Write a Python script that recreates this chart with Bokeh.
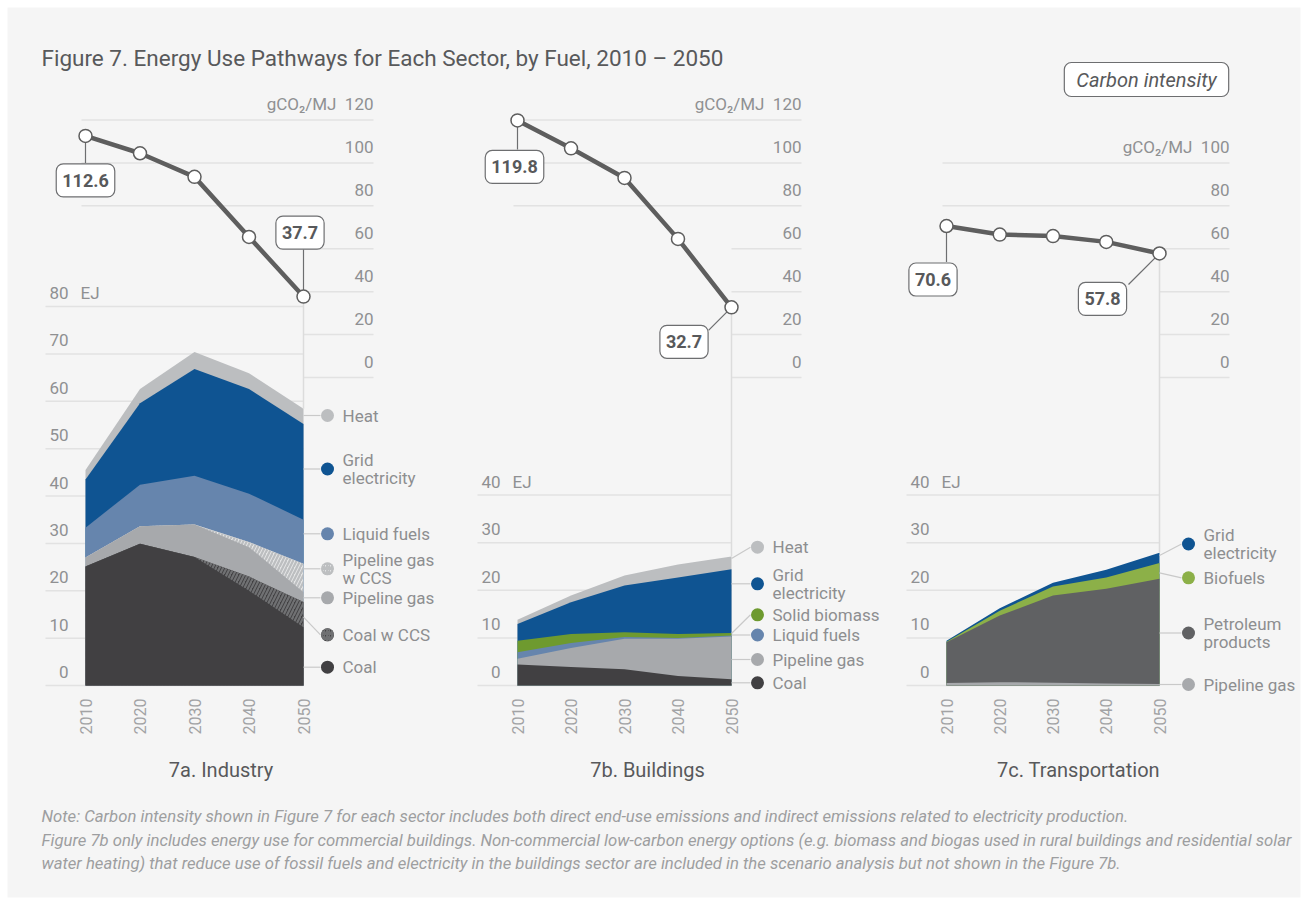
import numpy as np
from bokeh.plotting import figure
from bokeh.models import Range1d, Label
from bokeh.core.properties import value
from bokeh.embed import file_html
from bokeh.resources import INLINE

# ---------------- data ----------------
years = [2010, 2020, 2030, 2040, 2050]
year_labels = ["2010", "2020", "2030", "2040", "2050"]

# Industry (EJ)
ind_coal = [25.1, 29.9, 27.1, 20.0, 12.3]
ind_coal_ccs = [0.0, 0.0, 0.0, 3.0, 5.3]
ind_gas = [1.9, 3.7, 6.9, 6.2, 2.1]
ind_gas_ccs = [0.0, 0.0, 0.0, 1.1, 6.0]
ind_liquid = [6.3, 8.8, 10.3, 10.2, 9.3]
ind_grid = [10.2, 17.2, 22.5, 22.1, 20.2]
ind_heat = [2.0, 3.0, 3.6, 3.3, 3.2]
ind_ci = [112.6, 104.5, 93.5, 65.5, 37.7]   # gCO2/MJ

# Buildings (EJ)
bld_coal = [4.4, 3.9, 3.4, 2.0, 1.3]
bld_gas = [1.2, 4.0, 6.4, 7.8, 9.0]
bld_liquid = [1.4, 1.0, 0.4, 0.2, 0.2]
bld_biomass = [2.4, 1.9, 1.0, 0.8, 0.5]
bld_grid = [3.5, 6.7, 9.8, 11.9, 13.4]
bld_heat = [0.9, 1.4, 2.1, 2.7, 2.7]
bld_ci = [119.8, 106.8, 93.0, 64.6, 32.7]

# Transportation (EJ)
trn_gas = [0.5, 0.7, 0.6, 0.4, 0.3]
trn_petroleum = [8.6, 14.0, 18.3, 19.9, 22.1]
trn_biofuels = [0.1, 1.0, 1.9, 2.4, 3.3]
trn_grid = [0.2, 0.5, 0.8, 1.6, 2.2]
trn_ci = [70.6, 66.6, 65.9, 63.2, 57.8]

ej_ticks_ind = [0, 10, 20, 30, 40, 50, 60, 70, 80]
ej_ticks_small = [0, 10, 20, 30, 40]
ci_ticks_120 = [0, 20, 40, 60, 80, 100, 120]
ci_ticks_100 = [0, 20, 40, 60, 80, 100]

title_text = "Figure 7. Energy Use Pathways for Each Sector, by Fuel, 2010 \u2013 2050"
subtitles = ["7a. Industry", "7b. Buildings", "7c. Transportation"]
ci_unit = "gCO\u2082/MJ"
ej_unit = "EJ"
badge_text = "Carbon intensity"
note_lines = [
    "Note: Carbon intensity shown in Figure 7 for each sector includes both direct end-use emissions and indirect emissions related to electricity production.",
    "Figure 7b only includes energy use for commercial buildings. Non-commercial low-carbon energy options (e.g. biomass and biogas used in rural buildings and residential solar",
    "water heating) that reduce use of fossil fuels and electricity in the buildings sector are included in the scenario analysis but not shown in the Figure 7b.",
]

# ---------------- styles ----------------
FONT_NAME = "Roboto"
FONT = value(FONT_NAME)
C_COAL = "#414042"
C_COAL_H = "#707173"
C_GAS = "#a7a9ac"
C_GASCCS = "#e4e5e6"
C_GASCCS_H = "#bcbec0"
C_LIQ = "#6685ad"
C_GRID = "#0f5492"
C_HEAT = "#bcbec0"
C_BIOM = "#6e9a2f"
C_BIOF = "#8cb048"
C_PETRO = "#606163"
C_LINE = "#5e5e5e"
C_TXT = "#58595b"
C_TICK = "#8f9092"
C_GRIDLINE = "#e2e2e2"

FX0, FX1, FY0, FY1 = 0, 1308, 0, 899
CI0_PX, CI120_PX = 377.0, 119.5

p = figure(width=FX1 - FX0, height=FY1 - FY0,
           x_range=Range1d(FX0, FX1), y_range=Range1d(FY1, FY0),
           x_axis_location=None, y_axis_location=None, toolbar_location=None,
           output_backend="svg", min_border=0, outline_line_color=None,
           background_fill_color="white", border_fill_color="white")
p.xgrid.visible = False
p.ygrid.visible = False

# grey panel
p.quad(left=[7], right=[1300], top=[7], bottom=[897], fill_color="#f5f5f5", line_color=None)


def txt(x, y, s, size="17px", color=C_TICK, align="left", baseline="middle",
        style="normal", angle=0.0, xr="default", yr="default"):
    p.text(x=x, y=y, text=s, text_font=FONT, text_font_size=size, text_color=color,
           text_align=align, text_baseline=baseline, text_font_style=style, angle=angle,
           x_range_name=xr, y_range_name=yr)


panels = [
    dict(key="ind", px2010=85, px2050=303, ej0=685, ejtop=306, ejmax=80,
         ej_ticks=ej_ticks_ind, ci_ticks=ci_ticks_120, ci=ind_ci,
         series=[(ind_coal, C_COAL, None), (ind_coal_ccs, C_COAL, C_COAL_H),
                 (ind_gas, C_GAS, None), (ind_gas_ccs, C_GASCCS, C_GASCCS_H),
                 (ind_liquid, C_LIQ, None), (ind_grid, C_GRID, None), (ind_heat, C_HEAT, None)],
         badges=[(0, 0, 44.5, 0, 27), (4, -3.5, -64, 0, -47)],
         leg_x=327,
         legend=[(["Heat"], C_HEAT, None, 415, 415),
                 (["Grid", "electricity"], C_GRID, None, 468.5, 468.5),
                 (["Liquid fuels"], C_LIQ, None, 533.3, 533.3),
                 (["Pipeline gas", "w CCS"], C_GASCCS, C_GASCCS_H, 568.3, 568.3),
                 (["Pipeline gas"], C_GAS, None, 597.3, 597.3),
                 (["Coal w CCS"], C_COAL, C_COAL_H, 634.3, 616.7),
                 (["Coal"], C_COAL, None, 666.7, 666.7)],
         sub_x=220.5),
    dict(key="bld", px2010=517, px2050=731, ej0=685, ejtop=494.5, ejmax=40,
         ej_ticks=ej_ticks_small, ci_ticks=ci_ticks_120, ci=bld_ci,
         series=[(bld_coal, C_COAL, None), (bld_gas, C_GAS, None), (bld_liquid, C_LIQ, None),
                 (bld_biomass, C_BIOM, None), (bld_grid, C_GRID, None), (bld_heat, C_HEAT, None)],
         badges=[(0, -3, 46.5, 0, 29), (4, -47.5, 34.5, -23, 23)],
         leg_x=757,
         legend=[(["Heat"], C_HEAT, None, 546.7, 558),
                 (["Grid", "electricity"], C_GRID, None, 583.3, 583.3),
                 (["Solid biomass"], C_BIOM, None, 614.3, 633),
                 (["Liquid fuels"], C_LIQ, None, 634.5, 634.5),
                 (["Pipeline gas"], C_GAS, None, 659, 659),
                 (["Coal"], C_COAL, None, 682.3, 682.3)],
         sub_x=647),
    dict(key="trn", px2010=946, px2050=1159, ej0=685, ejtop=494.5, ejmax=40,
         ej_ticks=ej_ticks_small, ci_ticks=ci_ticks_100, ci=trn_ci,
         series=[(trn_gas, C_GAS, None), (trn_petroleum, C_PETRO, None),
                 (trn_biofuels, C_BIOF, None), (trn_grid, C_GRID, None)],
         badges=[(0, -13.5, 53.5, 0, 36), (4, -57, 45.5, -31, 31)],
         leg_x=1188,
         legend=[(["Grid", "electricity"], C_GRID, None, 543.5, 555),
                 (["Biofuels"], C_BIOF, None, 577.3, 572.3),
                 (["Petroleum", "products"], C_PETRO, None, 632.5, 632.5),
                 (["Pipeline gas"], C_GAS, None, 684, 684)],
         sub_x=1078),
]

xr_map, yr_map = {}, {}
for pn in panels:
    kx = (pn["px2050"] - pn["px2010"]) / 40.0
    kej = (pn["ej0"] - pn["ejtop"]) / pn["ejmax"]
    kci = (CI0_PX - CI120_PX) / 120.0
    pn["kx"], pn["kej"], pn["kci"] = kx, kej, kci
    xr_map[pn["key"] + "_x"] = Range1d(2010 - (pn["px2010"] - FX0) / kx, 2010 + (FX1 - pn["px2010"]) / kx)
    yr_map[pn["key"] + "_ej"] = Range1d(-(FY1 - pn["ej0"]) / kej, (pn["ej0"] - FY0) / kej)
    yr_map[pn["key"] + "_ci"] = Range1d(-(FY1 - CI0_PX) / kci, (CI0_PX - FY0) / kci)
p.extra_x_ranges = xr_map
p.extra_y_ranges = yr_map

for pi_, pn in enumerate(panels):
    k = pn["key"]
    XR, YE, YC = k + "_x", k + "_ej", k + "_ci"
    kx, kej, kci = pn["kx"], pn["kej"], pn["kci"]
    ej_ticks, ci_ticks = pn["ej_ticks"], pn["ci_ticks"]
    ci = pn["ci"]

    # EJ gridlines & labels
    n = len(ej_ticks)
    p.segment(x0=[2010 - 40 / kx] * n, x1=[2050] * n, y0=ej_ticks, y1=ej_ticks,
              line_color=C_GRIDLINE, line_width=1.5, x_range_name=XR, y_range_name=YE)
    txt([2010 - 17 / kx] * n, [t + 13.5 / kej for t in ej_ticks], [str(t) for t in ej_ticks],
        align="right", xr=XR, yr=YE)
    txt([2010 - 5 / kx], [ej_ticks[-1] + 13.5 / kej], [ej_unit], align="left", xr=XR, yr=YE)

    # carbon intensity gridlines & labels
    m = len(ci_ticks)
    x0s = [(2010 - 4 / kx) if t >= 80 else 2050 for t in ci_ticks]
    p.segment(x0=x0s, x1=[2050 + 70 / kx] * m, y0=ci_ticks, y1=ci_ticks,
              line_color=C_GRIDLINE, line_width=1.5, x_range_name=XR, y_range_name=YC)
    txt([2050 + 70 / kx] * m, [t + 16 / kci for t in ci_ticks], [str(t) for t in ci_ticks],
        align="right", xr=XR, yr=YC)
    txt([2050 + 33 / kx], [ci_ticks[-1] + 16 / kci], [ci_unit], align="right", xr=XR, yr=YC)

    # stacked areas: draw cumulative areas from top layer down (no seams)
    cum = np.cumsum([np.array(s[0], dtype=float) for s in pn["series"]], axis=0)
    for i in range(len(pn["series"]) - 1, -1, -1):
        vals, col, hcol = pn["series"][i]
        kw = {}
        if hcol:
            kw = dict(hatch_pattern="/", hatch_color=hcol, hatch_weight=2.2, hatch_scale=7)
        p.varea(x=years, y1=[0] * 5, y2=list(cum[i]), fill_color=col,
                x_range_name=XR, y_range_name=YE, **kw)
    total_2050 = cum[-1][-1]

    # drop line from last CI point to area top at 2050
    px_total = pn["ej0"] - total_2050 * kej
    ci_at_total = (CI0_PX - px_total) / kci
    p.segment(x0=[2050], x1=[2050], y0=[ci[-1]], y1=[ci_at_total],
              line_color="#dcdcdc", line_width=1.5, x_range_name=XR, y_range_name=YC)

    # year labels
    txt(years, [-13 / kej] * 5, year_labels, size="16px", color="#a2a3a5", align="right",
        angle=np.pi / 2, xr=XR, yr=YE)

    # carbon intensity line
    p.line(x=years, y=ci, line_color=C_LINE, line_width=4.5, x_range_name=XR, y_range_name=YC)

    # badge connectors
    for idx, dx, dy, cx, cy in pn["badges"]:
        yv, vv = years[idx], ci[idx]
        p.segment(x0=[yv], y0=[vv], x1=[yv + cx / kx], y1=[vv - cy / kci],
                  line_color="#6d6e70", line_width=1.2, x_range_name=XR, y_range_name=YC)

    p.scatter(x=years, y=ci, size=13, marker="circle", fill_color="white",
              line_color=C_LINE, line_width=1.5, x_range_name=XR, y_range_name=YC)

    for idx, dx, dy, cx, cy in pn["badges"]:
        yv, vv = years[idx], ci[idx]
        p.add_layout(Label(x=yv + dx / kx, y=vv - dy / kci, x_range_name=XR, y_range_name=YC,
                           text=f"{vv:.1f}", text_font=FONT_NAME, text_font_size="18px",
                           text_font_style="bold", text_color=C_TXT,
                           text_align="center", text_baseline="middle",
                           background_fill_color="white", border_line_color="#6d6e70",
                           border_line_width=1.2, border_radius=7,
                           padding=dict(left=6, right=6, top=10, bottom=10)))

    # legend (custom, pixel layout)
    px50 = pn["px2050"]
    lx = pn["leg_x"]
    for lines, col, hcol, yc, ys in pn["legend"]:
        p.segment(x0=[px50], y0=[ys], x1=[lx - 7], y1=[yc], line_color="#c9c9c9", line_width=1.2)
        kw = {}
        if hcol:
            kw = dict(hatch_pattern="/", hatch_color=hcol, hatch_weight=2.2, hatch_scale=5)
        p.scatter(x=[lx], y=[yc], size=13, marker="circle", fill_color=col, line_color=None, **kw)
        if len(lines) == 1:
            txt([lx + 15], [yc], lines, size="17px", color="#8d8e90")
        else:
            off = -8.8
            txt([lx + 15] * 2, [yc + off, yc + off + 17.5], lines, size="17px", color="#8d8e90")

    # subtitle
    txt([pn["sub_x"]], [769], [subtitles[pi_]], size="20px", color=C_TXT, align="center")

# title
txt([41], [57], [title_text], size="22.5px", color=C_TXT)

# carbon intensity badge
p.add_layout(Label(x=1146, y=79, text=badge_text, text_font=FONT_NAME, text_font_size="20px",
                   text_font_style="italic", text_color=C_TXT, text_align="center",
                   text_baseline="middle", background_fill_color="white",
                   border_line_color="#6d6e70", border_line_width=1.2, border_radius=7,
                   padding=dict(left=12, right=12, top=5, bottom=5)))

# notes
for i, line in enumerate(note_lines):
    txt([41], [816 + i * 23.5], [line], size="16.7px", color="#9d9ea0", style="italic")

open("out.html", "w").write(file_html(p, INLINE))
